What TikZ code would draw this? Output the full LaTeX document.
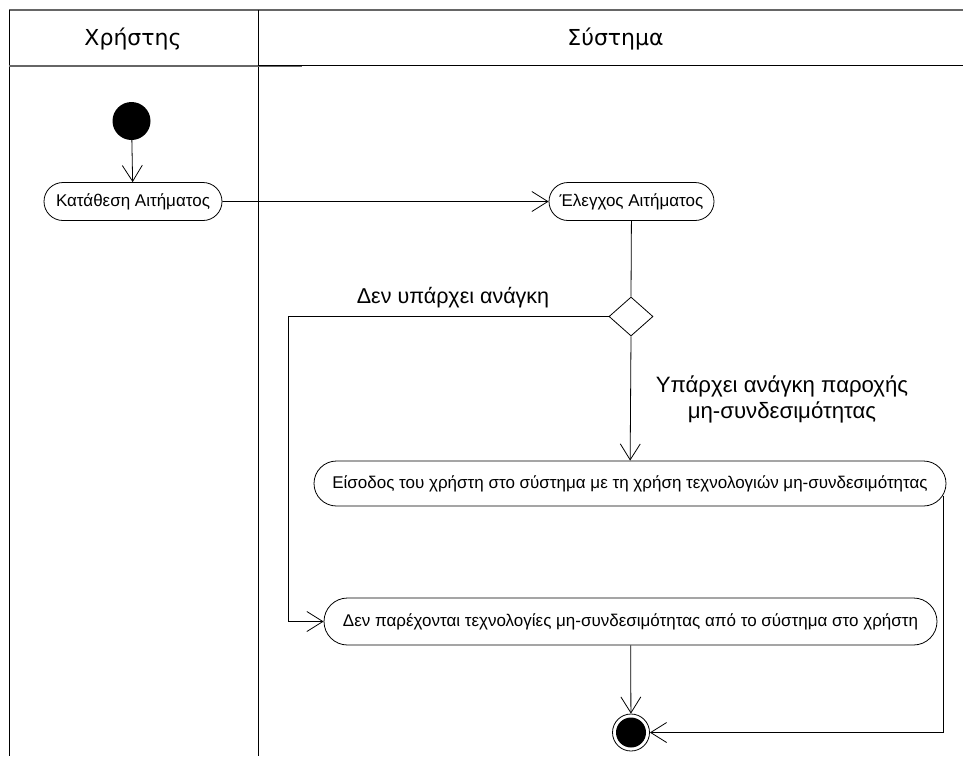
\documentclass[tikz,border=0pt]{standalone}
\usepackage{fontspec}
\setmainfont{Liberation Sans}
\newfontfamily\headfont{DejaVu Sans}
\usetikzlibrary{arrows.meta,shapes.misc,shapes.geometric,calc}
\begin{document}
\begin{tikzpicture}[x=1pt,y=-1pt,
  activity/.style 2 args={draw,line width=0.8pt,rounded rectangle,fill=white,
    inner xsep=4pt,minimum height=#1,minimum width=#2,font=\fontsize{17}{20}\selectfont},
  flow/.style={draw,line width=0.8pt,-{Straight Barb[length=16pt,width=20pt,line width=0.8pt]}},
  plain/.style={draw,line width=0.8pt},
  lane/.style={line width=1pt},
  lanehead/.style={font=\headfont\fontsize{22}{26}\selectfont},
  guard/.style={font=\fontsize{21.5}{25}\selectfont,align=center}]
\useasboundingbox (0,0) rectangle (963,756);
\fill[white] (0,0) rectangle (963,756);

% swimlane frame
\draw[lane,gray!80!black,line width=1.4pt] (9,10) -- (963,10);
\draw[lane] (9.5,10) -- (9.5,756);
\draw[lane] (258,10) -- (258,756);
\draw[lane,gray!80!black,line width=1.6pt] (9,66) -- (302,66);
\draw[lane] (258,65.5) -- (963,65.5);
\node[lanehead] (laneA) at (133,39) {Χρήστης};
\node[lanehead] (laneB) at (615.5,39) {Σύστημα};

% nodes
\node[circle,fill=black,minimum size=38pt,inner sep=0pt] (start) at (131.5,121) {};
\node[activity={38pt}{186pt}] (submit) at (133,201.5) {Κατάθεση Αιτήματος};
\node[activity={38pt}{173pt}] (check) at (631.5,201.5) {Έλεγχος Αιτήματος};
\node[diamond,draw,line width=0.8pt,fill=white,minimum width=44pt,minimum height=39pt,inner sep=0pt] (dec) at (631,316.5) {};
\node[activity={45pt}{640pt}] (enter) at (630,483.5) {Είσοδος του χρήστη στο σύστημα με τη χρήση τεχνολογιών μη-συνδεσιμότητας};
\node[activity={47pt}{621pt}] (deny) at (630.5,621.5) {Δεν παρέχονται τεχνολογίες μη-συνδεσιμότητας από το σύστημα στο χρήστη};
\node[circle,draw,line width=0.8pt,fill=white,minimum size=37pt,inner sep=0pt] (final) at (631,732.5) {};
\fill (final.center) circle (15pt);

% guard labels
\node[guard] (noNeed) at (453,298) {Δεν υπάρχει ανάγκη};
\node[guard,font=\fontsize{22.2}{26}\selectfont] (need) at (782,399) {Υπάρχει ανάγκη παροχής\\μη-συνδεσιμότητας};

% control flows
\draw[flow] (start) -- (submit);
\draw[flow] (submit) -- (check);
\draw[plain] (check) -- (dec.north);
\draw[flow] (dec.south) -- (enter);
\draw[flow] (dec.west) -- ++(-320,0) |- (deny.west);
\draw[flow] (deny) -- (final);
\coordinate (enterOut) at ($(enter.east)+(-3,12)$);
\draw[flow] (enterOut) |- (final.east);
\end{tikzpicture}
\end{document}
